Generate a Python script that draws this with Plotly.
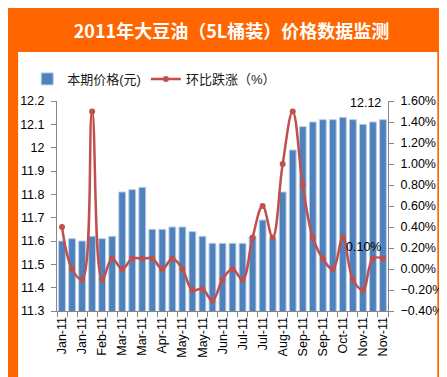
import plotly.graph_objects as go

# 33 ten-day periods (early/mid/late month), Jan-11 .. Nov-11
periods = list(range(33))
price = [11.60, 11.61, 11.60, 11.62, 11.61, 11.62, 11.81, 11.82, 11.83, 11.65,
         11.65, 11.66, 11.66, 11.64, 11.62, 11.59, 11.59, 11.59, 11.59, 11.62,
         11.69, 11.61, 11.81, 11.99, 12.09, 12.11, 12.12, 12.12, 12.13, 12.12,
         12.10, 12.11, 12.12]
change = [0.40, 0.00, -0.10, 1.50, -0.10, 0.10, 0.00, 0.10, 0.10, 0.10,
          0.00, 0.10, 0.00, -0.20, -0.19, -0.30, -0.10, 0.00, -0.10, 0.30,
          0.60, 0.30, 1.00, 1.50, 0.80, 0.30, 0.10, 0.00, 0.30, -0.10,
          -0.20, 0.10, 0.10]
tick_labels = ["Jan-11", "Jan-11", "Feb-11", "Mar-11", "Mar-11", "Apr-11",
               "May-11", "May-11", "Jun-11", "Jul-11", "Jul-11", "Aug-11",
               "Sep-11", "Sep-11", "Oct-11", "Nov-11", "Nov-11"]
tick_positions = periods[::2]

title_text = "2011年大豆油（5L桶装）价格数据监测"
bar_name = "本期价格(元)"
line_name = "环比跌涨（%）"

FONT = "Liberation Sans, Arial, Noto Sans CJK SC"
ORANGE = "#FF6600"
AXIS = "#868686"

fig = go.Figure()
fig.add_trace(go.Bar(
    x=periods, y=price, name=bar_name,
    marker=dict(color="#4F81BD", line=dict(color="#B9CDE5", width=1)),
    yaxis="y",
))
fig.add_trace(go.Scatter(
    x=periods, y=change, name=line_name, mode="lines+markers",
    line=dict(color="#C0504D", width=2.5, shape="spline", smoothing=1.1),
    marker=dict(color="#C0504D", size=6),
    yaxis="y2",
))

# data labels for the last period
fig.add_annotation(x=periods[-1], y=price[-1], xref="x", yref="y",
                   text=f"{price[-1]:.2f}", showarrow=False,
                   xanchor="right", yanchor="bottom", yshift=8,
                   font=dict(size=12.5, color="#000000", family=FONT))
fig.add_annotation(x=periods[-1], y=change[-1], xref="x", yref="y2",
                   text=f"{change[-1]:.2f}%", showarrow=False,
                   xanchor="right", yanchor="bottom", yshift=3,
                   font=dict(size=12.5, color="#000000", family=FONT))

# white chart panel inside orange frame
fig.add_shape(type="rect", xref="paper", yref="paper",
              x0=-0.1175, x1=1.149, y0=-0.343, y1=1.2333,
              fillcolor="white", line_width=0, layer="below")

fig.update_layout(
    width=447, height=377,
    margin=dict(l=44, r=54, t=93, b=74),
    paper_bgcolor=ORANGE,
    plot_bgcolor="white",
    font=dict(family=FONT, size=12.5, color="#000000"),
    title=dict(text=f"<b>{title_text}</b>", x=0.5, xref="container",
               y=1 - 24 / 377, yref="container", yanchor="middle", xanchor="center",
               font=dict(size=18, color="white", family="Noto Sans CJK SC, Liberation Sans")),
    bargap=0.32,
    showlegend=True,
    legend=dict(orientation="h", x=-0.09, xanchor="left", y=1.105, yanchor="middle",
                bgcolor="rgba(0,0,0,0)", font=dict(size=13, color="#1a1a1a"),
                itemwidth=30, tracegroupgap=0),
    xaxis=dict(range=[-0.5, 32.5], tickmode="array", tickvals=tick_positions,
               ticktext=tick_labels, tickangle=-90, ticks="", showline=True,
               linecolor=AXIS, linewidth=1, showgrid=False, zeroline=False,
               tickfont=dict(size=12.5),
               minor=dict(tickmode="linear", tick0=-0.5, dtick=1, ticks="outside",
                          ticklen=5, tickcolor=AXIS, showgrid=False)),
    yaxis=dict(range=[11.3, 12.2], dtick=0.1, tick0=11.3, showline=True, linecolor=AXIS,
               ticks="outside", ticklen=5, tickcolor=AXIS, showgrid=False,
               zeroline=False, ticklabelstandoff=4),
    yaxis2=dict(range=[-0.4, 1.6], dtick=0.2, tick0=-0.4, overlaying="y", side="right",
                showline=True, linecolor=AXIS, ticks="outside", ticklen=5,
                tickcolor=AXIS, showgrid=False, zeroline=False,
                tickformat=".2f", ticksuffix="%", ticklabelstandoff=4),
)

fig.write_html("out.html")
